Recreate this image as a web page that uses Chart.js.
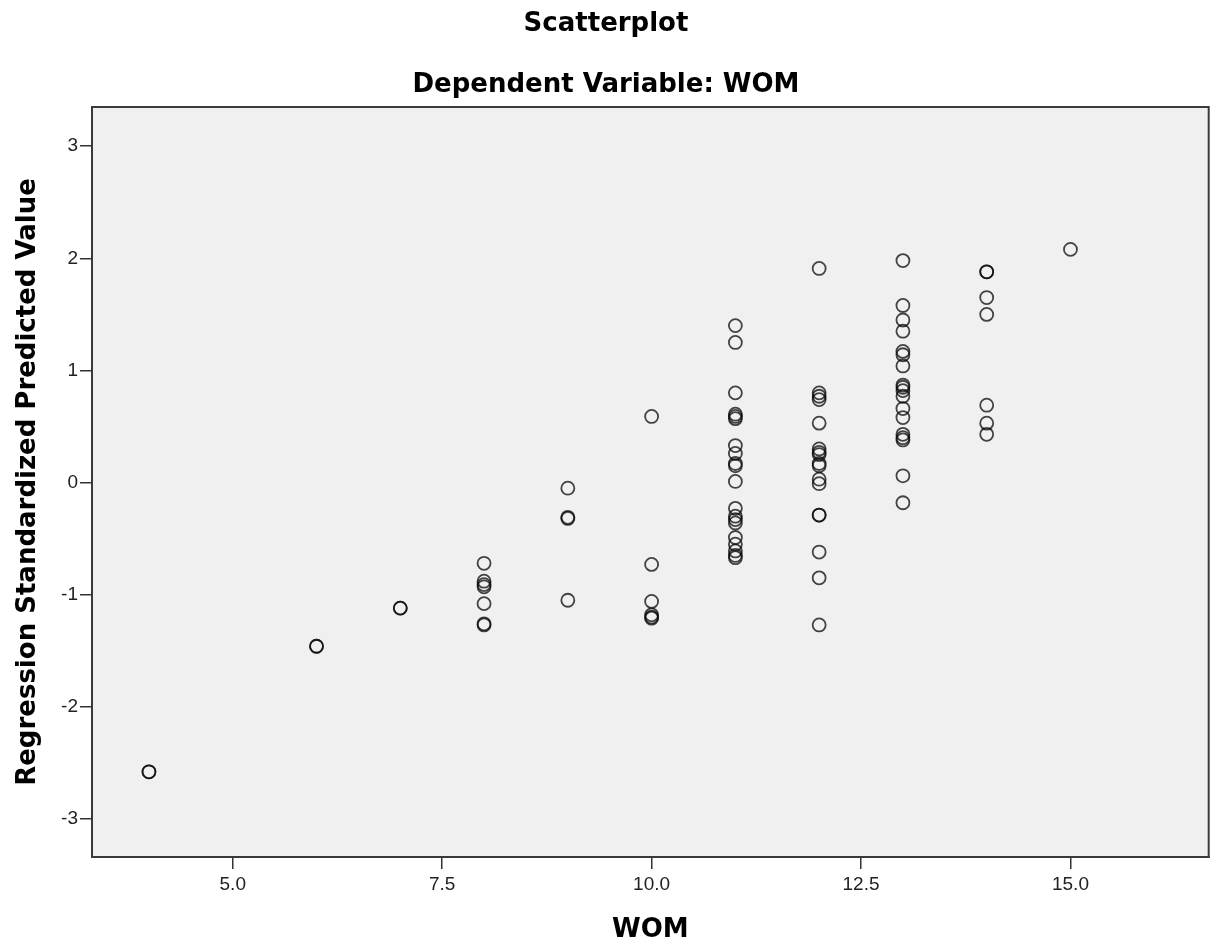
<!DOCTYPE html>
<html>
<head>
<meta charset="utf-8">
<title>Scatterplot</title>
<script src="https://cdn.jsdelivr.net/npm/chart.js@4/dist/chart.umd.min.js"></script>
<style>
  html, body { margin: 0; padding: 0; background: #fff; }
  canvas { display: block; }
</style>
</head>
<body>
<canvas id="chart" width="1217" height="949"></canvas>
<script>
// WOM values on the x axis
const womLevels = [4, 6, 7, 8, 9, 10, 11, 12, 13, 14, 15];

// Regression standardized predicted values, one list per WOM level
const predAt4 = [-2.58, -2.58];
const predAt6 = [-1.46, -1.46];
const predAt7 = [-1.12, -1.12];
const predAt8 = [-0.72, -0.88, -0.91, -0.93, -1.08, -1.26, -1.27];
const predAt9 = [-0.05, -0.31, -0.32, -1.05];
const predAt10 = [0.59, -0.73, -1.06, -1.18, -1.20, -1.21];
const predAt11 = [1.40, 1.25, 0.80, 0.61, 0.59, 0.57, 0.33, 0.26, 0.17, 0.15, 0.01,
  -0.23, -0.30, -0.33, -0.36, -0.49, -0.55, -0.61, -0.65, -0.67];
const predAt12 = [1.91, 0.80, 0.77, 0.74, 0.53, 0.30, 0.27, 0.25, 0.17, 0.15, 0.03,
  -0.01, -0.29, -0.29, -0.62, -0.85, -1.27];
const predAt13 = [1.98, 1.58, 1.45, 1.35, 1.17, 1.14, 1.04, 0.87, 0.85, 0.82, 0.77,
  0.66, 0.58, 0.43, 0.40, 0.38, 0.06, -0.18];
const predAt14 = [1.88, 1.88, 1.65, 1.50, 0.69, 0.53, 0.43];
const predAt15 = [2.08];

const predByLevel = [predAt4, predAt6, predAt7, predAt8, predAt9, predAt10,
  predAt11, predAt12, predAt13, predAt14, predAt15];

// Tick labels
const xTicks = [5.0, 7.5, 10.0, 12.5, 15.0];
const yTicks = [-3, -2, -1, 0, 1, 2, 3];

const points = [];
womLevels.forEach((w, i) => {
  predByLevel[i].forEach(v => points.push({ x: w, y: v }));
});

// Grey plot area with a frame round it
const plotFrame = {
  id: 'plotFrame',
  beforeDraw(chart) {
    const { ctx, chartArea: a } = chart;
    ctx.save();
    ctx.fillStyle = '#f0f0f0';
    ctx.fillRect(a.left, a.top, a.right - a.left, a.bottom - a.top);
    ctx.restore();
  },
  beforeDatasetsDraw(chart) {
    const { ctx, chartArea: a } = chart;
    ctx.save();
    ctx.strokeStyle = '#3a3a3a';
    ctx.lineWidth = 2;
    ctx.strokeRect(a.left, a.top, a.right - a.left, a.bottom - a.top);
    ctx.restore();
  }
};

const titleFont = { family: 'DejaVu Sans', size: 26, weight: 'bold', lineHeight: 1.2 };
const tickFont = { family: 'Liberation Sans', size: 19 };

new Chart(document.getElementById('chart'), {
  type: 'scatter',
  data: {
    datasets: [{
      data: points,
      pointStyle: 'circle',
      pointRadius: 6.5,
      pointHoverRadius: 6.5,
      borderWidth: 1.8,
      borderColor: 'rgba(10,10,10,0.75)',
      backgroundColor: 'rgba(0,0,0,0)'
    }]
  },
  options: {
    responsive: false,
    animation: false,
    devicePixelRatio: 1,
    layout: { padding: { left: 0, right: 5, top: 0, bottom: 0 } },
    plugins: {
      legend: { display: false },
      tooltip: { enabled: false },
      title: {
        display: true,
        text: 'Scatterplot',
        color: '#000',
        font: titleFont,
        padding: { top: 9, bottom: 29 }
      },
      subtitle: {
        display: true,
        text: 'Dependent Variable: WOM',
        color: '#000',
        font: titleFont,
        padding: { top: 0, bottom: 6.6 }
      }
    },
    scales: {
      x: {
        type: 'linear',
        min: 3.32,
        max: 16.65,
        afterBuildTicks: s => { s.ticks = xTicks.map(v => ({ value: v })); },
        afterFit: s => { s.height = 92; },
        grid: { drawOnChartArea: false, drawTicks: true, tickLength: 12, color: '#333', lineWidth: 1.5 },
        border: { display: true, color: '#222', width: 2 },
        ticks: {
          font: tickFont,
          color: '#222',
          padding: 4,
          maxRotation: 0,
          callback: v => Number(v).toFixed(1)
        },
        title: {
          display: true,
          text: 'WOM',
          color: '#000',
          font: titleFont,
          padding: { top: 0, bottom: 3 }
        }
      },
      y: {
        type: 'linear',
        min: -3.34,
        max: 3.35,
        afterBuildTicks: s => { s.ticks = yTicks.map(v => ({ value: v })); },
        afterFit: s => { s.width = 92; },
        grid: { drawOnChartArea: false, drawTicks: true, tickLength: 12, color: '#333', lineWidth: 1.5 },
        border: { display: true, color: '#222', width: 2 },
        ticks: {
          font: tickFont,
          color: '#222',
          padding: 2,
          callback: v => String(v)
        },
        title: {
          display: true,
          text: 'Regression Standardized Predicted Value',
          color: '#000',
          font: titleFont,
          padding: { top: 13, bottom: 0 }
        }
      }
    }
  },
  plugins: [plotFrame]
});
</script>
</body>
</html>
